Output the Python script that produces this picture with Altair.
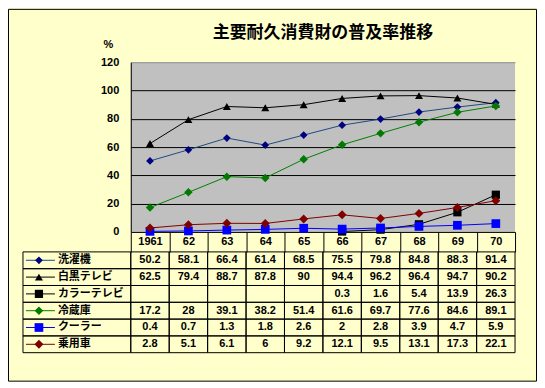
import altair as alt
import pandas as pd

years = ["1961", "62", "63", "64", "65", "66", "67", "68", "69", "70"]
series = ["洗濯機", "白黒テレビ", "カラーテレビ", "冷蔵庫", "クーラー", "乗用車"]
washer = [50.2, 58.1, 66.4, 61.4, 68.5, 75.5, 79.8, 84.8, 88.3, 91.4]
bw_tv = [62.5, 79.4, 88.7, 87.8, 90, 94.4, 96.2, 96.4, 94.7, 90.2]
color_tv = [None, None, None, None, None, 0.3, 1.6, 5.4, 13.9, 26.3]
fridge = [17.2, 28, 39.1, 38.2, 51.4, 61.6, 69.7, 77.6, 84.6, 89.1]
cooler = [0.4, 0.7, 1.3, 1.8, 2.6, 2, 2.8, 3.9, 4.7, 5.9]
car = [2.8, 5.1, 6.1, 6, 9.2, 12.1, 9.5, 13.1, 17.3, 22.1]
y_ticks = [0, 20, 40, 60, 80, 100, 120]

line_colors = ["#1E4A80", "#000000", "#000000", "#008000", "#0000FF", "#800000"]
marker_colors = ["#000080", "#000000", "#000000", "#007A00", "#0000FF", "#800000"]
shapes = ["diamond", "triangle-up", "square", "diamond", "square", "diamond"]
sizes = [60, 80, 64, 56, 121, 40]

values = [washer, bw_tv, color_tv, fridge, cooler, car]
rows = []
for s, vals in zip(series, values):
    for y, v in zip(years, vals):
        rows.append({"year": y, "series": s, "value": v,
                     "label": "" if v is None else f"{v:g}"})
df = pd.DataFrame(rows)
df_plot = df.dropna(subset=["value"])
df_series = pd.DataFrame({"series": series})

NUM_FONT = "Liberation Sans"
JP_FONT = "Noto Sans CJK JP"
PLOT_W, PLOT_H = 385, 170
LAB_W, TAB_H = 108, 101

xscale = alt.Scale(domain=years, type="band", paddingInner=0, paddingOuter=0)
yser = alt.Scale(domain=series, type="band", paddingInner=0, paddingOuter=0)
color_line = alt.Scale(domain=series, range=line_colors)
color_mark = alt.Scale(domain=series, range=marker_colors)
shape_sc = alt.Scale(domain=series, range=shapes)
size_sc = alt.Scale(domain=series, range=sizes)

x_axis = alt.Axis(title=None, orient="bottom", domain=False, grid=False,
                  ticks=True, tickBand="extent", tickSize=20,
                  tickColor="black", tickWidth=1,
                  labelFont=NUM_FONT, labelFontSize=11, labelFontWeight="bold",
                  labelColor="black", labelAngle=0, labelBaseline="middle",
                  labelPadding=-10, labelOverlap=False, labelFlush=False)
y_axis = alt.Axis(values=y_ticks, title="%", titleAngle=0, titleX=-23, titleY=-18,
                  titleAlign="center", titleBaseline="middle",
                  titleFont=NUM_FONT, titleFontSize=11, titleFontWeight="bold",
                  titleColor="black",
                  labelFont=NUM_FONT, labelFontSize=11, labelFontWeight="bold",
                  labelColor="black", ticks=False, labelPadding=12,
                  labelOverlap=False,
                  domain=True, domainColor="black",
                  grid=True,
                  gridColor=alt.condition("datum.value == 120", alt.value("#909090"), alt.value("black")),
                  gridWidth=1)
yscale = alt.Scale(domain=[0, 120], nice=False, zero=True)

x_enc = alt.X("year:N", scale=xscale, bandPosition=0.5, sort=years, axis=x_axis)
y_enc = alt.Y("value:Q", scale=yscale, axis=y_axis)

base = alt.Chart(df_plot)
lines = base.mark_line(strokeWidth=1, clip=False).encode(
    x=x_enc, y=y_enc,
    color=alt.Color("series:N", scale=color_line, legend=None),
    detail="series:N",
)
points = base.mark_point(filled=True, opacity=1, clip=False).encode(
    x=x_enc, y=y_enc,
    color=alt.Color("series:N", scale=color_mark, legend=None),
    shape=alt.Shape("series:N", scale=shape_sc, legend=None),
    size=alt.Size("series:N", scale=size_sc, legend=None),
)
line_chart = alt.layer(lines, points).resolve_scale(color="independent").properties(
    width=PLOT_W, height=PLOT_H,
    view=alt.ViewBackground(fill="#C0C0C0", strokeWidth=0),
    title=alt.TitleParams("主要耐久消費財の普及率推移", font=JP_FONT, fontSize=17,
                          fontWeight="bold", color="black", anchor="middle", offset=-4),
)

# top-left cell: carries the outer frame of the whole figure
filler = alt.Chart(df_series.head(1)).mark_rect(
    fillOpacity=0, stroke="black", strokeWidth=1, clip=False
).encode(
    x=alt.value(-14.5), x2=alt.value(514.5), y=alt.value(-53), y2=alt.value(319.5)
).properties(width=LAB_W, height=PLOT_H)

ys = alt.Y("series:N", scale=yser, sort=series, axis=None)
ys_c = alt.Y("series:N", scale=yser, sort=series, axis=None, bandPosition=0.5)
lb = alt.Chart(df_series)
lab_rect = lb.mark_rect(fill="#FFFFCC", fillOpacity=0, stroke="black", strokeWidth=1).encode(
    y=ys, x=alt.value(0), x2=alt.value(LAB_W))
lab_rule = lb.mark_rule(strokeWidth=1).encode(
    y=ys_c, x=alt.value(3), x2=alt.value(32),
    color=alt.Color("series:N", scale=color_line, legend=None))
lab_pt = lb.mark_point(filled=True, opacity=1).encode(
    y=ys_c, x=alt.value(16),
    color=alt.Color("series:N", scale=color_mark, legend=None),
    shape=alt.Shape("series:N", scale=shape_sc, legend=None),
    size=alt.Size("series:N", scale=size_sc, legend=None))
lab_txt = lb.mark_text(align="left", baseline="middle", font=JP_FONT, fontSize=11,
                       fontWeight="bold", color="black").encode(
    y=ys_c, x=alt.value(35), text="series:N")
label_table = alt.layer(lab_rect, lab_rule, lab_pt, lab_txt).resolve_scale(
    color="independent").properties(width=LAB_W, height=TAB_H)

xt = alt.X("year:N", scale=xscale, sort=years, axis=None)
xt_c = alt.X("year:N", scale=xscale, sort=years, axis=None, bandPosition=0.5)
tb = alt.Chart(df)
val_rect = tb.mark_rect(fill="#FFFFCC", fillOpacity=0, stroke="black", strokeWidth=1).encode(
    x=xt, y=ys)
val_txt = tb.mark_text(align="center", baseline="middle", font=NUM_FONT, fontSize=11,
                       fontWeight="bold", color="black").encode(
    x=xt_c, y=ys_c, text="label:N")
value_table = alt.layer(val_rect, val_txt).properties(width=PLOT_W, height=TAB_H)

chart = alt.concat(filler, line_chart, label_table, value_table, columns=2,
                   spacing={"row": 20, "column": 0}, bounds="flush").properties(
    background="#FFFFCC",
    padding={"left": 0, "top": 0, "right": 0, "bottom": 0},
).configure_view(strokeWidth=0)

chart.save("out.html", embed_options={"renderer": "svg", "actions": False})
